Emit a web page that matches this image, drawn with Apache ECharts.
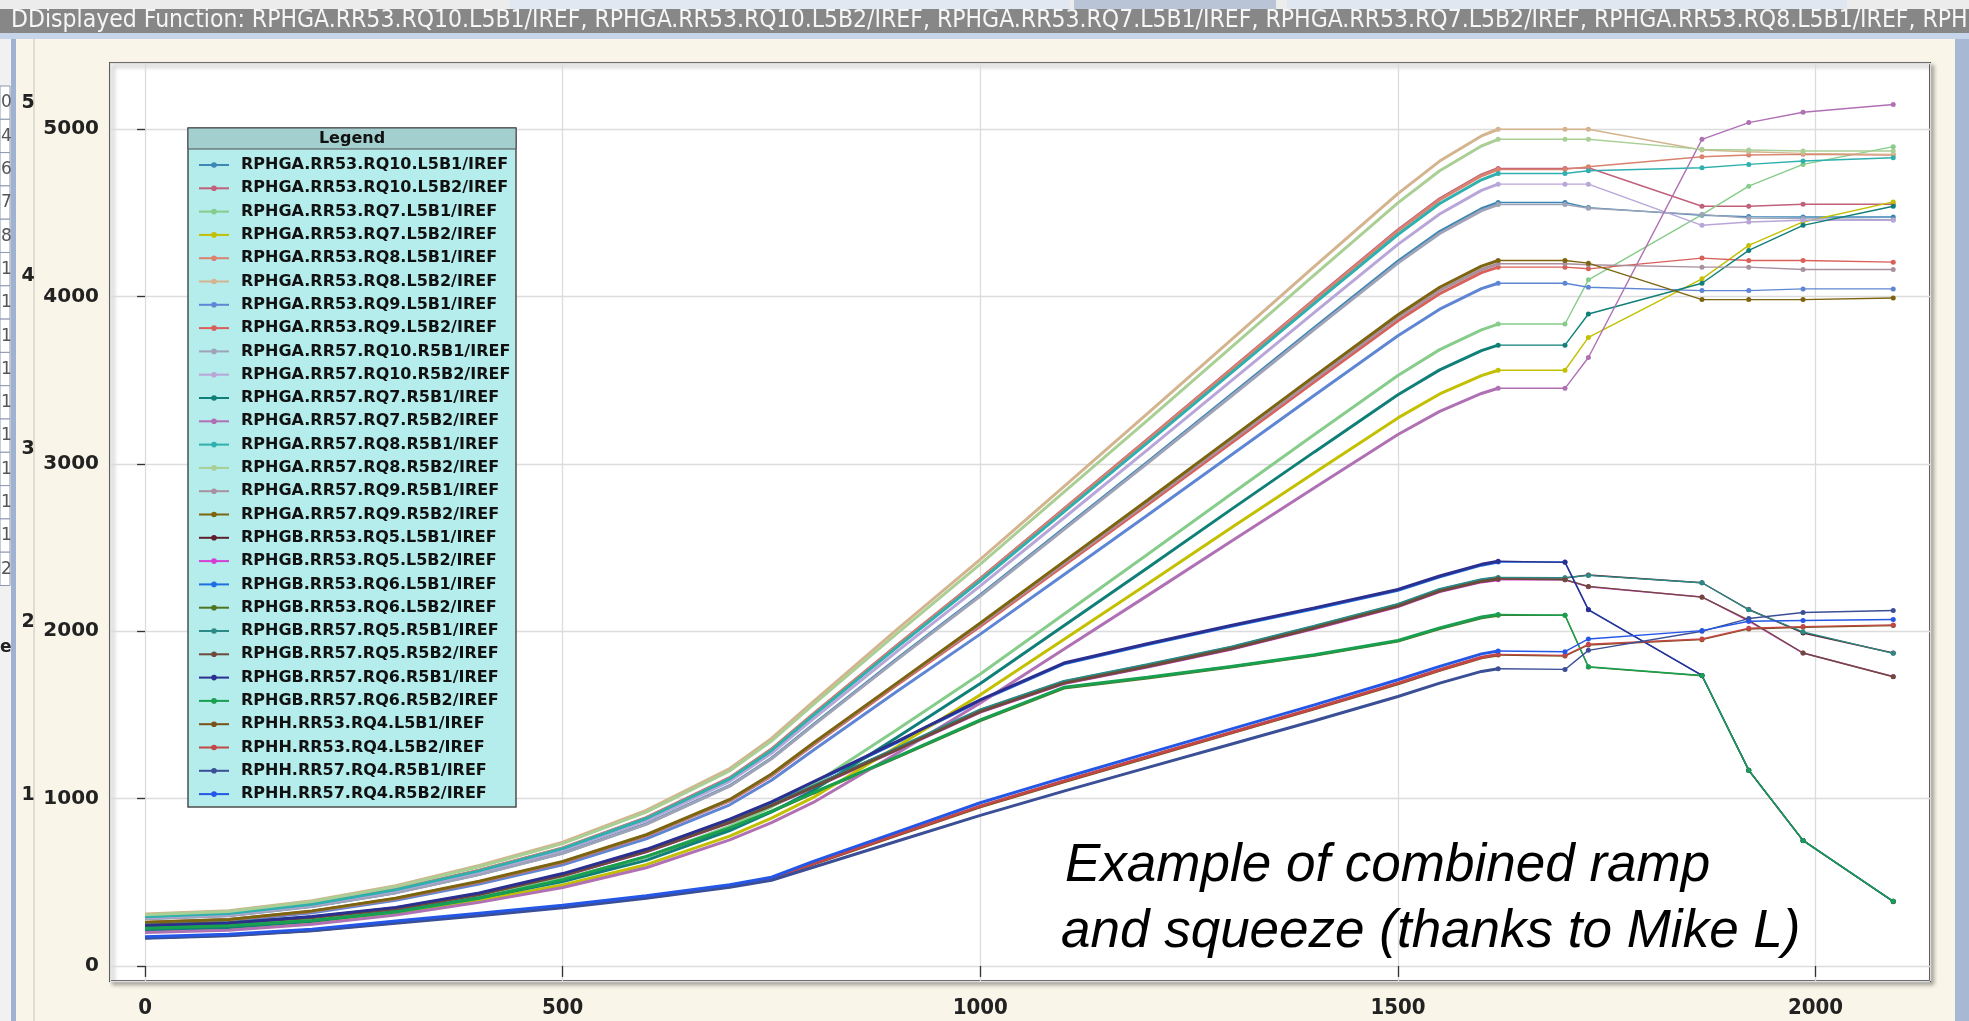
<!DOCTYPE html>
<html>
<head>
<meta charset="utf-8">
<script src="https://cdn.jsdelivr.net/npm/echarts@6/dist/echarts.min.js"></script>
<style>
  html, body { margin: 0; padding: 0; background: #f9f5e9; }
  #main { width: 1969px; height: 1021px; }
</style>
</head>
<body>
<div id="main"></div>
<script>
// x positions: dense ramp part, then the sparse squeeze points
const rampX = [0, 100, 200, 300, 400, 500, 600, 700, 750, 800, 900, 1000, 1100, 1200, 1300, 1400, 1500, 1550, 1600, 1620];
const tailX = [1620, 1700, 1728, 1864, 1920, 1985, 2093];

const names = [
  'RPHGA.RR53.RQ10.L5B1/IREF', 'RPHGA.RR53.RQ10.L5B2/IREF', 'RPHGA.RR53.RQ7.L5B1/IREF', 'RPHGA.RR53.RQ7.L5B2/IREF',
  'RPHGA.RR53.RQ8.L5B1/IREF', 'RPHGA.RR53.RQ8.L5B2/IREF', 'RPHGA.RR53.RQ9.L5B1/IREF', 'RPHGA.RR53.RQ9.L5B2/IREF',
  'RPHGA.RR57.RQ10.R5B1/IREF', 'RPHGA.RR57.RQ10.R5B2/IREF', 'RPHGA.RR57.RQ7.R5B1/IREF', 'RPHGA.RR57.RQ7.R5B2/IREF',
  'RPHGA.RR57.RQ8.R5B1/IREF', 'RPHGA.RR57.RQ8.R5B2/IREF', 'RPHGA.RR57.RQ9.R5B1/IREF', 'RPHGA.RR57.RQ9.R5B2/IREF',
  'RPHGB.RR53.RQ5.L5B1/IREF', 'RPHGB.RR53.RQ5.L5B2/IREF', 'RPHGB.RR53.RQ6.L5B1/IREF', 'RPHGB.RR53.RQ6.L5B2/IREF',
  'RPHGB.RR57.RQ5.R5B1/IREF', 'RPHGB.RR57.RQ5.R5B2/IREF', 'RPHGB.RR57.RQ6.R5B1/IREF', 'RPHGB.RR57.RQ6.R5B2/IREF',
  'RPHH.RR53.RQ4.L5B1/IREF', 'RPHH.RR53.RQ4.L5B2/IREF', 'RPHH.RR57.RQ4.R5B1/IREF', 'RPHH.RR57.RQ4.R5B2/IREF'
];
const colors = [
  '#3d87b5', '#c0607a', '#86cc8a', '#c2c000', '#d9826e', '#d4b48e', '#5f86d4', '#d9605a',
  '#9ea3b8', '#b9a6d8', '#0f7f78', '#b070b4', '#2fb0ae', '#a9cf95', '#a8909f', '#7d6510',
  '#5e1f2a', '#d23fd2', '#1f6fe0', '#4f7422', '#2a8a86', '#6e4a3a', '#2b2f8f', '#18a050',
  '#7a5018', '#c24848', '#3a4f96', '#2457e6'
];

// ramp values (at rampX)
const r01 = [283, 301, 356, 438, 547, 675, 849, 1077, 1241, 1442, 1834, 2217, 2614, 3011, 3412, 3814, 4211, 4389, 4525, 4562];
const r02 = [296, 315, 372, 458, 572, 705, 886, 1125, 1296, 1506, 1916, 2316, 2731, 3146, 3565, 3984, 4399, 4585, 4728, 4766];
const r03 = [222, 238, 276, 338, 422, 522, 652, 836, 951, 1086, 1412, 1745, 2102, 2459, 2819, 3176, 3529, 3683, 3801, 3836];
const r04 = [206, 221, 256, 313, 392, 484, 605, 776, 883, 1007, 1310, 1620, 1951, 2282, 2617, 2948, 3275, 3418, 3528, 3560];
const r05 = [295, 314, 371, 457, 571, 704, 885, 1123, 1295, 1504, 1913, 2313, 2727, 3142, 3560, 3979, 4393, 4579, 4722, 4760];
const r06 = [310, 330, 390, 480, 600, 740, 930, 1180, 1360, 1580, 2010, 2430, 2865, 3300, 3740, 4180, 4615, 4810, 4960, 5000];
const r07 = [253, 269, 318, 392, 490, 604, 759, 963, 1110, 1289, 1640, 1983, 2338, 2693, 3052, 3411, 3766, 3925, 4048, 4080];
const r08 = [259, 276, 326, 401, 501, 618, 777, 986, 1136, 1320, 1679, 2030, 2393, 2756, 3124, 3491, 3855, 4017, 4143, 4176];
const r09 = [282, 300, 355, 437, 546, 673, 846, 1074, 1238, 1438, 1829, 2211, 2607, 3003, 3403, 3804, 4200, 4377, 4514, 4550];
const r10 = [290, 308, 364, 449, 561, 692, 869, 1103, 1271, 1476, 1878, 2271, 2677, 3084, 3495, 3906, 4312, 4494, 4635, 4672];
const r11 = [215, 230, 267, 326, 408, 505, 631, 809, 920, 1050, 1365, 1688, 2033, 2378, 2727, 3072, 3413, 3562, 3677, 3710];
const r12 = [200, 214, 249, 304, 380, 469, 587, 753, 856, 977, 1270, 1571, 1892, 2213, 2537, 2858, 3176, 3314, 3421, 3452];
const r13 = [294, 313, 369, 455, 568, 701, 881, 1118, 1288, 1497, 1904, 2302, 2714, 3126, 3543, 3959, 4371, 4556, 4698, 4736];
const r14 = [306, 326, 385, 474, 593, 731, 919, 1166, 1344, 1561, 1986, 2401, 2831, 3260, 3695, 4130, 4560, 4752, 4900, 4940];
const r15 = [260, 277, 327, 403, 504, 621, 781, 990, 1141, 1326, 1687, 2040, 2405, 2770, 3139, 3508, 3874, 4037, 4162, 4196];
const r16 = [261, 278, 329, 405, 506, 624, 784, 995, 1147, 1332, 1690, 2049, 2416, 2783, 3154, 3525, 3892, 4056, 4182, 4216];
const r17 = [244, 257, 291, 344, 429, 543, 688, 863, 963, 1073, 1298, 1527, 1697, 1797, 1902, 2027, 2157, 2247, 2305, 2318];
const r18 = [242, 255, 289, 341, 426, 538, 682, 856, 956, 1066, 1290, 1517, 1687, 1787, 1892, 2017, 2147, 2237, 2295, 2308];
const r19 = [238, 252, 292, 346, 432, 547, 692, 872, 976, 1096, 1336, 1585, 1805, 1920, 2030, 2135, 2245, 2325, 2395, 2414];
const r20 = [224, 238, 270, 320, 402, 512, 652, 822, 922, 1032, 1247, 1466, 1661, 1721, 1786, 1856, 1941, 2016, 2081, 2096];
const r21 = [245, 258, 292, 345, 430, 545, 690, 865, 965, 1075, 1300, 1530, 1700, 1800, 1905, 2030, 2160, 2250, 2308, 2322];
const r22 = [243, 256, 290, 342, 427, 540, 684, 858, 958, 1068, 1292, 1520, 1690, 1790, 1895, 2020, 2150, 2240, 2298, 2312];
const r23 = [240, 255, 295, 350, 436, 552, 697, 877, 980, 1100, 1340, 1590, 1810, 1925, 2035, 2140, 2250, 2330, 2400, 2418];
const r24 = [225, 240, 272, 322, 405, 515, 655, 825, 925, 1035, 1250, 1470, 1665, 1725, 1790, 1860, 1945, 2020, 2085, 2100];
const r25 = [168, 183, 212, 259, 305, 352, 409, 475, 519, 608, 781, 951, 1101, 1246, 1391, 1536, 1686, 1766, 1841, 1858];
const r26 = [170, 185, 215, 262, 308, 355, 412, 478, 522, 612, 785, 955, 1105, 1250, 1395, 1540, 1690, 1770, 1845, 1862];
const r27 = [165, 180, 210, 255, 300, 348, 405, 470, 512, 590, 745, 900, 1045, 1185, 1325, 1465, 1610, 1690, 1760, 1776];
const r28 = [175, 190, 220, 268, 315, 362, 420, 485, 530, 625, 800, 975, 1125, 1270, 1415, 1560, 1710, 1790, 1865, 1882];

// squeeze values (at tailX)
const t01 = [4562, 4562, 4532, 4486, 4478, 4476, 4476];
const t02 = [4766, 4766, 4770, 4540, 4540, 4552, 4552];
const t03 = [3836, 3836, 4100, 4490, 4660, 4790, 4896];
const t04 = [3560, 3560, 3756, 4106, 4306, 4446, 4566];
const t05 = [4760, 4760, 4776, 4836, 4846, 4850, 4846];
const t06 = [5000, 5000, 5000, 4876, 4866, 4856, 4850];
const t07 = [4080, 4080, 4056, 4036, 4036, 4046, 4046];
const t08 = [4176, 4176, 4166, 4230, 4216, 4216, 4206];
const t09 = [4550, 4550, 4528, 4490, 4470, 4466, 4460];
const t10 = [4672, 4672, 4672, 4426, 4446, 4456, 4456];
const t11 = [3710, 3710, 3896, 4080, 4276, 4426, 4540];
const t12 = [3452, 3452, 3636, 4940, 5040, 5102, 5148];
const t13 = [4736, 4736, 4752, 4770, 4790, 4810, 4830];
const t14 = [4940, 4940, 4940, 4880, 4876, 4870, 4870];
const t15 = [4196, 4196, 4190, 4176, 4176, 4162, 4162];
const t16 = [4216, 4216, 4200, 3982, 3982, 3982, 3992];
const t17 = [2318, 2318, 2336, 2290, 2130, 1990, 1870];
const t18 = [2308, 2308, 2266, 2205, 2060, 1870, 1730];
const t19 = [2414, 2414, 2130, 1736, 1170, 750, 386];
const t20 = [2096, 2096, 1786, 1734, 1168, 748, 384];
const t21 = [2322, 2320, 2334, 2290, 2128, 1996, 1868];
const t22 = [2312, 2308, 2268, 2204, 2066, 1870, 1728];
const t23 = [2418, 2412, 2128, 1736, 1170, 750, 386];
const t24 = [2100, 2096, 1788, 1736, 1170, 750, 386];
const t25 = [1858, 1852, 1918, 1950, 2014, 2024, 2034];
const t26 = [1862, 1856, 1922, 1954, 2018, 2028, 2038];
const t27 = [1776, 1772, 1886, 2000, 2076, 2112, 2124];
const t28 = [1882, 1878, 1954, 2004, 2060, 2064, 2070];

const ramps = [r01, r02, r03, r04, r05, r06, r07, r08, r09, r10, r11, r12, r13, r14,
               r15, r16, r17, r18, r19, r20, r21, r22, r23, r24, r25, r26, r27, r28];
const tails = [t01, t02, t03, t04, t05, t06, t07, t08, t09, t10, t11, t12, t13, t14,
               t15, t16, t17, t18, t19, t20, t21, t22, t23, t24, t25, t26, t27, t28];
// these lie under another curve in the picture
const underneath = [16, 17, 18, 19, 24];

const yTickLabels = ['0', '1000', '2000', '3000', '4000', '5000'];
const leftDigits = ['0', '4', '6', '7', '8', '1', '1', '1', '1', '1', '1', '1', '1', '1', '2'];
const strayDigits = ['5', '4', '3', '2', '1'];

(function () {
  const myChart = echarts.init(document.getElementById('main'));

  const series = [];
  // squeeze part first so the legend icon gets the marker
  names.forEach(function (name, i) {
    series.push({
      name: name,
      type: 'line',
      data: tailX.map(function (x, k) { return [x, tails[i][k]]; }),
      symbol: 'circle',
      symbolSize: 5,
      showSymbol: true,
      lineStyle: { width: 1.4, color: colors[i] },
      itemStyle: { color: colors[i] },
      z: underneath.indexOf(i) >= 0 ? 1 : 2,
      silent: true
    });
  });
  names.forEach(function (name, i) {
    series.push({
      name: name,
      type: 'line',
      data: rampX.map(function (x, k) { return [x, ramps[i][k]]; }),
      symbol: 'circle',
      showSymbol: false,
      lineStyle: { width: 3, color: colors[i] },
      itemStyle: { color: colors[i] },
      z: underneath.indexOf(i) >= 0 ? 1 : 2,
      silent: true
    });
  });

  const graphics = [
    // window chrome
    { type: 'rect', shape: { x: 0, y: 0, width: 1969, height: 9 }, style: { fill: '#ececec' } },
    { type: 'rect', shape: { x: 510, y: 0, width: 560, height: 9 }, style: { fill: '#e2e8f1' } },
    { type: 'rect', shape: { x: 1074, y: 0, width: 202, height: 9 }, style: { fill: '#b9c5d6' } },
    { type: 'rect', shape: { x: 1287, y: 0, width: 560, height: 9 }, style: { fill: '#e0e7f0' } },
    { type: 'rect', shape: { x: 0, y: 9, width: 1969, height: 24 }, style: { fill: '#878787' } },
    { type: 'rect', shape: { x: 0, y: 33, width: 1969, height: 6 }, style: { fill: '#c6d5ea' } },
    {
      type: 'text', style: {
        x: 11, y: 21, text: 'DDisplayed Function: ' + names.slice(0, 6).join(', '),
        font: '24.5px "DejaVu Sans Condensed"', fill: '#f6f6f6', verticalAlign: 'middle'
      }
    },
    // left side panel
    { type: 'rect', shape: { x: 0, y: 39, width: 11, height: 982 }, style: { fill: '#f1f1f1' } },
    { type: 'rect', shape: { x: 11, y: 39, width: 5, height: 982 }, style: { fill: '#9fb2d2' } },
    { type: 'rect', shape: { x: 33, y: 39, width: 2, height: 982 }, style: { fill: '#e0ddd2' } },
    { type: 'rect', shape: { x: 1955, y: 39, width: 14, height: 982 }, style: { fill: '#a7b8d5' } },
    { type: 'text', style: { x: 0, y: 648, text: 'e', font: 'bold 17px "DejaVu Sans"', fill: '#222', verticalAlign: 'middle' } },
    // legend box
    { type: 'rect', z: 3, shape: { x: 188, y: 128, width: 328, height: 679 }, style: { fill: '#b5ecec', stroke: '#4d4d4d', lineWidth: 1.5 } },
    { type: 'rect', z: 3, shape: { x: 188, y: 128, width: 328, height: 21 }, style: { fill: '#a3cfcf', stroke: '#4d4d4d', lineWidth: 1 } },
    { type: 'text', z: 4, style: { x: 352, y: 139, text: 'Legend', font: 'bold 16px "DejaVu Sans"', fill: '#111', align: 'center', verticalAlign: 'middle' } },
    // annotation
    { type: 'text', z: 5, style: { x: 1065, y: 866, text: 'Example of combined ramp', font: 'italic 53px "Liberation Sans"', fill: '#000', verticalAlign: 'middle' } },
    { type: 'text', z: 5, style: { x: 1061, y: 932, text: 'and squeeze (thanks to Mike L)', font: 'italic 53px "Liberation Sans"', fill: '#000', verticalAlign: 'middle' } }
  ];
  leftDigits.forEach(function (d, i) {
    const y = 86 + i * 33.3;
    graphics.push({ type: 'rect', shape: { x: 0, y: y, width: 10, height: 33.3 }, style: { fill: '#ffffff', stroke: '#8e98b0', lineWidth: 1 } });
    graphics.push({ type: 'text', style: { x: 1, y: y + 17, text: d, font: '17px "DejaVu Sans"', fill: '#555', verticalAlign: 'middle' } });
  });
  strayDigits.forEach(function (d, i) {
    graphics.push({ type: 'text', style: { x: 28, y: 103 + i * 173, text: d, font: 'bold 19px "DejaVu Sans"', fill: '#222', align: 'center', verticalAlign: 'middle' } });
  });

  const option = {
    animation: false,
    backgroundColor: '#f9f5e9',
    grid: {
      show: true,
      left: 110,
      top: 63,
      right: 39,
      bottom: 40,
      backgroundColor: '#ffffff',
      borderColor: '#4a4a4a',
      borderWidth: 2,
      shadowColor: 'rgba(0,0,0,0.3)',
      shadowBlur: 4,
      shadowOffsetX: 3,
      shadowOffsetY: 3
    },
    legend: {
      data: names,
      orient: 'vertical',
      left: 193,
      top: 152,
      itemWidth: 30,
      itemHeight: 7,
      itemGap: 7.3,
      selectedMode: false,
      z: 10,
      textStyle: {
        fontFamily: 'DejaVu Sans',
        fontWeight: 'bold',
        fontSize: 16,
        lineHeight: 16,
        color: '#111',
        padding: [0, 0, 0, 7]
      }
    },
    xAxis: {
      type: 'value',
      min: -42,
      max: 2137,
      splitNumber: 5,
      axisLine: { show: false },
      axisTick: { show: true, length: 11, lineStyle: { color: '#333', width: 1.3 } },
      axisLabel: {
        margin: 16, showMinLabel: false, showMaxLabel: false,
        fontFamily: 'DejaVu Sans Condensed', fontWeight: 'bold', fontSize: 22, color: '#222',
        formatter: function (v) { return String(v); }
      },
      splitLine: { show: true, lineStyle: { color: '#dcdcdc', width: 1.3 } }
    },
    yAxis: {
      type: 'value',
      min: -90,
      max: 5396,
      splitNumber: 5,
      axisLine: { show: false },
      axisTick: { show: true, length: 8, lineStyle: { color: '#333', width: 1.3 } },
      axisLabel: {
        margin: 11, showMinLabel: false, showMaxLabel: false,
        fontFamily: 'DejaVu Sans', fontWeight: 'bold', fontSize: 20, color: '#222',
        formatter: function (v) { return yTickLabels[Math.round(v / 1000)] || ''; }
      },
      splitLine: { show: true, lineStyle: { color: '#dcdcdc', width: 1.3 } }
    },
    graphic: graphics,
    series: series
  };

  myChart.setOption(option);
  window.addEventListener('resize', function () {
    myChart.resize();
  });
})();
</script>
</body>
</html>
